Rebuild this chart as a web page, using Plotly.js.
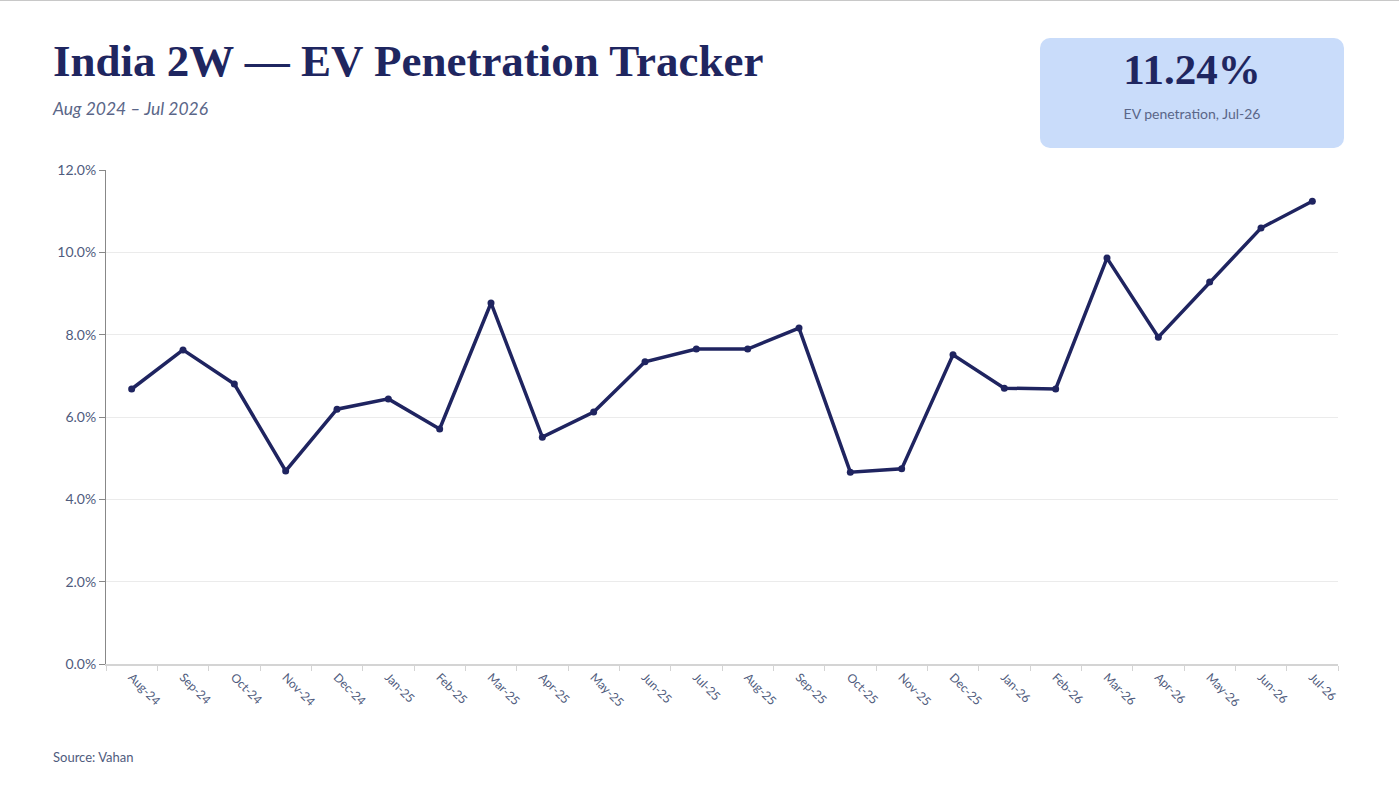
<!DOCTYPE html>
<html>
<head>
<meta charset="utf-8">
<script src="https://cdn.plot.ly/plotly-3.0.1.min.js"></script>
<style>
    html, body { margin: 0; padding: 0; background: #ffffff; }
    body { width: 1399px; height: 787px; position: relative; overflow: hidden; }
    #topline { position: absolute; left: 0; top: 0; width: 1399px; height: 1px; background: #c8c8c8; }
    #chart { position: absolute; left: 0; top: 0; width: 1399px; height: 787px; }
    #title { position: absolute; left: 53px; top: 35px; font-family: 'Liberation Serif', serif; font-weight: bold;
        font-size: 45px; color: #1f2660; white-space: nowrap; }
    #subtitle { position: absolute; left: 53px; top: 98px; font-family: 'Lato', sans-serif; font-style: italic;
        font-size: 17.5px; color: #5a6688; }
    #kpi { position: absolute; left: 1040px; top: 38px; width: 304px; height: 110px; background: #c9dcfa;
        border-radius: 10px; text-align: center; }
    #kpi-value { font-family: 'Liberation Serif', serif; font-weight: bold; font-size: 43px; color: #1f2660; margin-top: 7px; }
    #kpi-label { font-family: 'Lato', sans-serif; font-size: 14px; color: #5a6688; margin-top: 11px; }
    #source { position: absolute; left: 53px; top: 749px; font-family: 'Lato', sans-serif; font-size: 13px; color: #4f5b7d; }
</style>
</head>
<body>
<div id="topline"></div>
<div id="chart"></div>
<div id="title">India 2W — EV Penetration Tracker</div>
<div id="subtitle">Aug 2024 – Jul 2026</div>
<div id="kpi"><div id="kpi-value"></div><div id="kpi-label"></div></div>
<div id="source">Source: Vahan</div>
<script>
// Monthly EV share of two-wheeler registrations (percent).
const months = ['Aug-24', 'Sep-24', 'Oct-24', 'Nov-24', 'Dec-24', 'Jan-25', 'Feb-25', 'Mar-25',
    'Apr-25', 'May-25', 'Jun-25', 'Jul-25', 'Aug-25', 'Sep-25', 'Oct-25', 'Nov-25',
    'Dec-25', 'Jan-26', 'Feb-26', 'Mar-26', 'Apr-26', 'May-26', 'Jun-26', 'Jul-26'];
const evShare = [6.68, 7.63, 6.80, 4.69, 6.19, 6.44, 5.71, 8.77,
    5.51, 6.12, 7.34, 7.65, 7.65, 8.16, 4.66, 4.74,
    7.51, 6.70, 6.68, 9.86, 7.94, 9.28, 10.59, 11.24];
const yTicks = [0, 2, 4, 6, 8, 10, 12];

// KPI box shows the latest month.
document.getElementById('kpi-value').textContent = evShare[evShare.length - 1].toFixed(2) + '%';
document.getElementById('kpi-label').textContent = 'EV penetration, ' + months[months.length - 1];

Plotly.newPlot(document.getElementById('chart'), [
    {
        x: months,
        y: evShare,
        type: 'scatter',
        mode: 'lines+markers',
        line: { color: '#1f2460', width: 3.5 },
        marker: { color: '#1f2460', size: 7 },
        hoverinfo: 'x+y'
    }
], {
    width: 1399,
    height: 787,
    margin: { l: 106, r: 61, t: 170, b: 123 },
    paper_bgcolor: 'rgba(0,0,0,0)',
    plot_bgcolor: 'rgba(0,0,0,0)',
    showlegend: false,
    xaxis: {
        type: 'category',
        range: [-0.5, months.length - 0.5],
        tickson: 'boundaries',
        ticks: 'outside', ticklen: 5, tickcolor: '#d4d4d4',
        showline: true, linecolor: '#d4d4d4', linewidth: 1.5,
        showgrid: false, zeroline: false,
        tickangle: 45,
        tickfont: { family: 'Lato, sans-serif', size: 12, color: '#4f5b7d' },
        fixedrange: true
    },
    yaxis: {
        range: [0, 12],
        tickvals: yTicks,
        ticktext: yTicks.map(v => v.toFixed(1) + '%'),
        ticks: 'outside', ticklen: 6, tickcolor: '#888888',
        showline: true, linecolor: '#888888', linewidth: 1,
        gridcolor: '#ebebeb', gridwidth: 1,
        zeroline: false,
        tickfont: { family: 'Lato, sans-serif', size: 14, color: '#4f5b7d' },
        fixedrange: true
    }
}, { displayModeBar: false, staticPlot: true });
</script>
</body>
</html>
